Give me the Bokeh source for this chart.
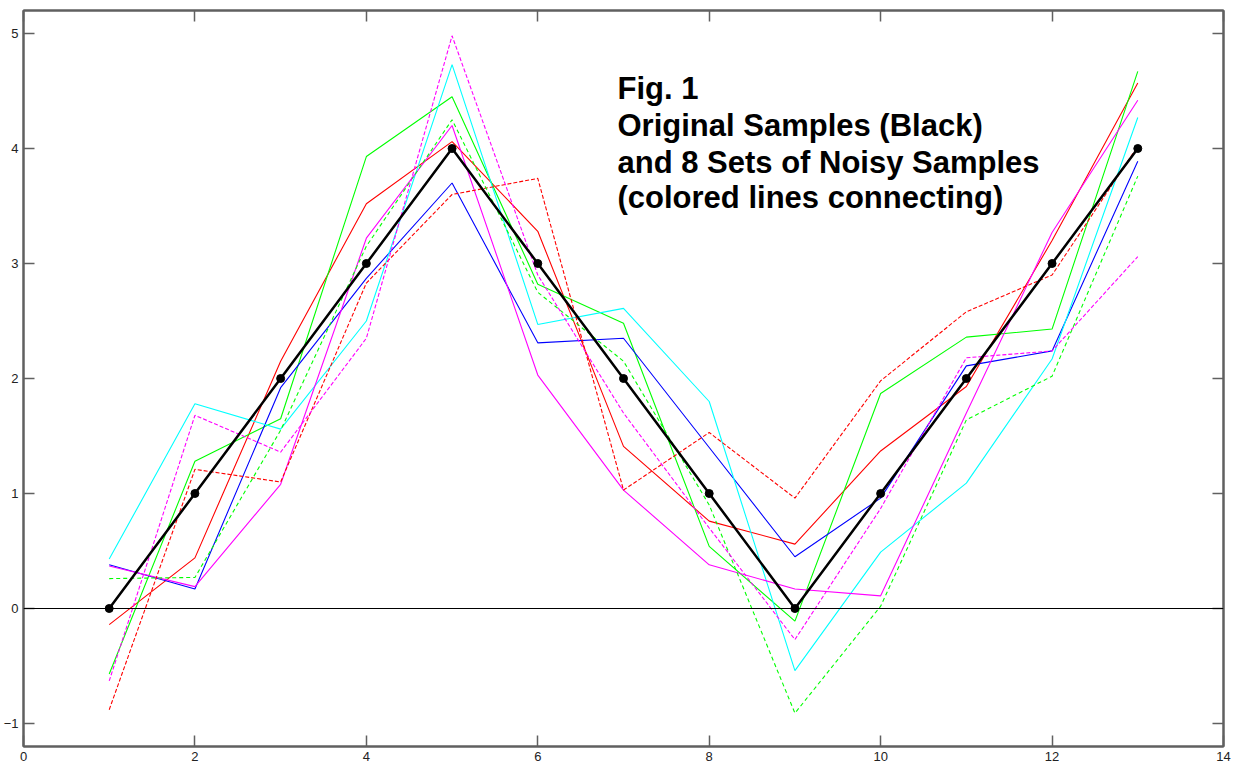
from bokeh.plotting import figure
from bokeh.models import LinearAxis, FixedTicker, Span, Label, Range1d
from bokeh.embed import file_html
from bokeh.resources import INLINE

# ---- data ----
sample_idx = list(range(1, 14))
original = [0, 1, 2, 3, 4, 3, 2, 1, 0, 1, 2, 3, 4]

red_solid = [-0.14, 0.44, 2.15, 3.52, 4.06, 3.28, 1.41, 0.76, 0.56, 1.37, 1.93, 3.20, 4.57]
green_solid = [-0.57, 1.28, 1.65, 3.93, 4.45, 2.82, 2.48, 0.54, -0.11, 1.87, 2.36, 2.43, 4.67]
blue_solid = [0.38, 0.17, 1.92, 2.87, 3.70, 2.31, 2.35, 1.40, 0.45, 0.96, 2.11, 2.24, 3.89]
cyan_solid = [0.43, 1.78, 1.56, 2.50, 4.73, 2.47, 2.61, 1.80, -0.54, 0.49, 1.09, 2.17, 4.27]
magenta_solid = [0.37, 0.19, 1.08, 3.22, 4.20, 2.03, 1.03, 0.38, 0.17, 0.11, 1.70, 3.27, 4.42]
red_dashed = [-0.88, 1.21, 1.10, 2.83, 3.60, 3.74, 1.03, 1.53, 0.96, 1.98, 2.58, 2.90, 4.02]
green_dashed = [0.26, 0.27, 1.55, 3.15, 4.25, 2.75, 2.15, 0.90, -0.91, 0.02, 1.64, 2.02, 3.76]
magenta_dashed = [-0.63, 1.68, 1.36, 2.35, 4.98, 2.90, 1.70, 0.70, -0.27, 0.87, 2.18, 2.24, 3.06]

x_ticks = [0, 2, 4, 6, 8, 10, 12, 14]
y_ticks = [-1, 0, 1, 2, 3, 4, 5]

title_lines = ["Fig. 1", "Original Samples (Black)", "and 8 Sets of Noisy Samples",
               "(colored lines connecting)"]

AXIS_GREY = "#606060"
FONT = "Liberation Sans"

p = figure(width=1236, height=766, output_backend="svg", toolbar_location=None,
           x_range=Range1d(0, 14), y_range=Range1d(-1.2, 5.2),
           min_border_left=22, min_border_right=13, min_border_top=10, min_border_bottom=20)
p.background_fill_color = "white"
p.border_fill_color = "white"
p.grid.visible = False
p.outline_line_color = AXIS_GREY
p.outline_line_width = 2

for ax in (p.xaxis[0], p.yaxis[0]):
    ax.axis_line_color = AXIS_GREY
    ax.axis_line_width = 2
    ax.major_tick_in = 11
    ax.major_tick_out = 0
    ax.minor_tick_line_color = None
    ax.major_tick_line_color = AXIS_GREY
    ax.major_tick_line_width = 1.5
    ax.major_label_text_font = FONT
    ax.major_label_text_font_size = "13px"
    ax.major_label_text_color = "#222222"
    ax.major_label_standoff = 5
p.xaxis[0].ticker = FixedTicker(ticks=x_ticks)
p.yaxis[0].ticker = FixedTicker(ticks=y_ticks)


def tick_only_axis(ticks):
    return LinearAxis(ticker=FixedTicker(ticks=ticks), major_label_text_font_size="1px",
                      major_label_text_color=None, major_label_standoff=0,
                      major_tick_in=11, major_tick_out=0,
                      minor_tick_line_color=None, major_tick_line_color=AXIS_GREY,
                      major_tick_line_width=1.5, axis_line_color=AXIS_GREY, axis_line_width=2)


p.add_layout(tick_only_axis(x_ticks), "above")
p.add_layout(tick_only_axis(y_ticks), "right")

p.add_layout(Span(location=0, dimension="width", line_color="black", line_width=1))

series = [
    (red_solid, "#FF0000", "solid"),
    (green_solid, "#00FF00", "solid"),
    (blue_solid, "#0000FF", "solid"),
    (cyan_solid, "#00FFFF", "solid"),
    (magenta_solid, "#FF00FF", "solid"),
    (red_dashed, "#FF0000", "4 2"),
    (green_dashed, "#00FF00", "4 3"),
    (magenta_dashed, "#FF00FF", "4 2"),
]
for ys, col, dash in series:
    p.line(sample_idx, ys, line_color=col, line_width=1.1, line_dash=dash)

p.line(sample_idx, original, line_color="black", line_width=2.5)
p.scatter(sample_idx, original, size=8, color="black")

line_y = [4.52, 4.20, 3.88, 3.57]
for txt, yy in zip(title_lines, line_y):
    p.add_layout(Label(x=6.93, y=yy, text=txt, text_font=FONT, text_font_style="bold",
                       text_font_size="31px", text_color="black", text_baseline="alphabetic"))

open("out.html", "w").write(file_html(p, INLINE))
